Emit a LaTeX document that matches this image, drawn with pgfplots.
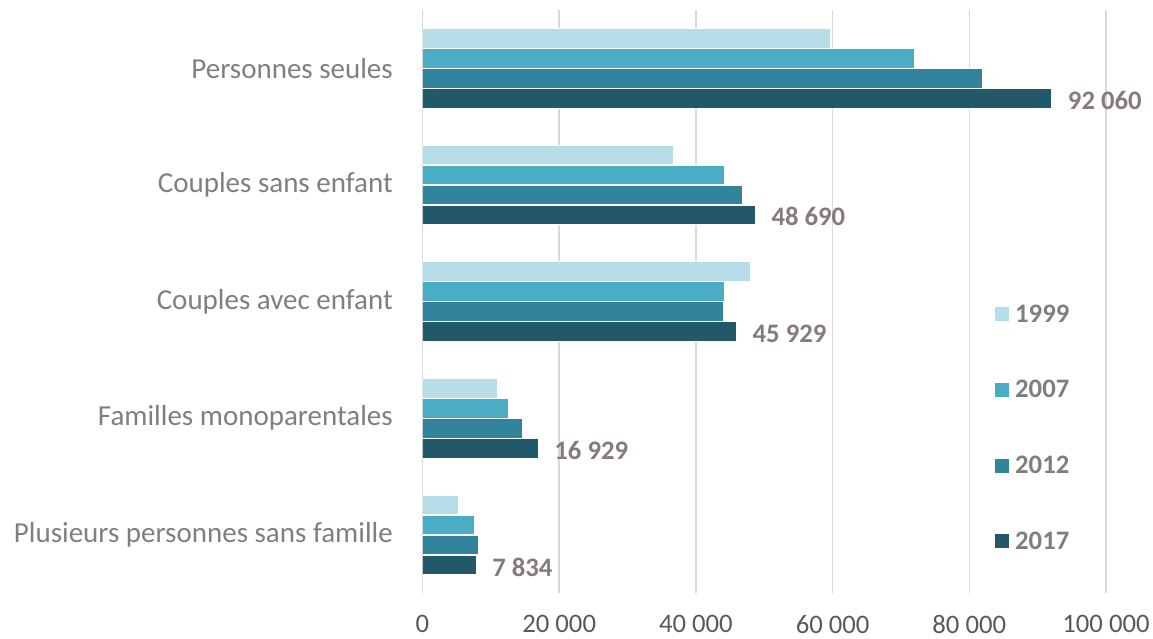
\documentclass[border=0pt]{standalone}
\usepackage{pgfplots}
\pgfplotsset{compat=1.18}
\usepackage{fontspec}
\setmainfont{Carlito}
\definecolor{c1999}{HTML}{B7DDE8}
\definecolor{c2007}{HTML}{4BACC6}
\definecolor{c2012}{HTML}{31849B}
\definecolor{c2017}{HTML}{215968}
\definecolor{gridc}{HTML}{D9D9D9}
\definecolor{tickc}{HTML}{595959}
\definecolor{catc}{HTML}{7F7F7F}
\definecolor{labc}{HTML}{857B7B}
\begin{document}
\begin{tikzpicture}[x=1pt,y=1pt]
\useasboundingbox (0,0) rectangle (1153,639);
\begin{axis}[
  at={(422.5pt,45.7pt)}, anchor=south west,
  scale only axis, width=683.5pt, height=583.6pt,
  xbar, bar width=19.5pt,
  xmin=0, xmax=100000, ymin=-0.5, ymax=4.5,
  scaled x ticks=false,
  xtick={0,20000,40000,60000,80000,100000},
  xticklabels={0,20 000,40 000,60 000,80 000,100 000},
  ytick={0,1,2,3,4},
  yticklabels={Plusieurs personnes sans famille, Familles monoparentales, Couples avec enfant, Couples sans enfant, Personnes seules},
  axis line style={draw=none},
  major tick length=0pt,
  xmajorgrids, grid style={gridc, line width=1.5pt},
  xticklabel style={font=\fontsize{26.7}{32}\selectfont, text=tickc, anchor=north, inner sep=0pt, yshift=-21.5pt},
  yticklabel style={font=\fontsize{29}{34}\selectfont, text=catc, anchor=east, inner sep=0pt, xshift=-29.5pt},
  legend style={at={(0.8376,0.495)}, anchor=north west, draw=none, fill=none, inner sep=0pt,
    font=\bfseries\fontsize{26.7}{32}\selectfont, text=catc, row sep=56.7pt,
    nodes={inner sep=0pt},
    /tikz/every odd column/.style={column sep=6pt}},
  legend cell align=left,
  legend image code/.code={\path[#1, draw=none] (0pt,-7pt) rectangle (14pt,7pt);},
]
\addplot[fill=c1999, draw=white, line width=0.5pt, bar shift=30pt]
  coordinates {(5200,0) (10900,1) (47900,2) (36700,3) (59600,4)};
\addplot[fill=c2007, draw=white, line width=0.5pt, bar shift=10pt]
  coordinates {(7500,0) (12600,1) (44200,2) (44100,3) (71900,4)};
\addplot[fill=c2012, draw=white, line width=0.5pt, bar shift=-10pt]
  coordinates {(8200,0) (14600,1) (44050,2) (46800,3) (81900,4)};
\addplot[fill=c2017, draw=white, line width=0.5pt, bar shift=-30pt,
  nodes near coords, point meta=explicit symbolic,
  every node near coord/.style={anchor=west, inner sep=0pt, xshift=16pt, yshift=-32pt,
    font=\bfseries\fontsize{26.7}{32}\selectfont, text=labc}]
  coordinates {(7834,0) [7 834] (16929,1) [16 929] (45929,2) [45 929] (48690,3) [48 690] (92060,4) [92 060]};
\legend{1999,2007,2012,2017}
\end{axis}
\end{tikzpicture}
\end{document}
